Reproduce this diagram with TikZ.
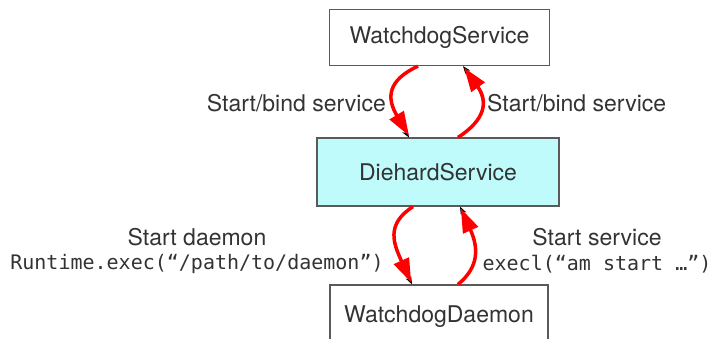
\documentclass[tikz,border=0pt]{standalone}
\usepackage{fontspec}
\setmainfont{TeX Gyre Heros}
\setmonofont{DejaVu Sans Mono}
\usetikzlibrary{arrows.meta}
\usetikzlibrary{positioning}
\definecolor{diehard}{HTML}{BFFBFB}
\definecolor{boxline}{HTML}{5A5A5A}
\definecolor{labeltext}{HTML}{333333}

\begin{document}
\begin{tikzpicture}[x=1pt, y=-1pt,
    every node/.style={font=\fontsize{23}{27}\selectfont, text=labeltext},
    svcbox/.style={draw=boxline, line width=1.2pt, inner sep=0pt},
    monolabel/.style={font=\fontsize{20}{24}\selectfont\ttfamily},
    callarrow/.style={draw=red, line width=3.5pt, -{Triangle[length=24pt,width=16pt]}},
    thinarrow/.style={draw=gray, line width=0.8pt, -{Stealth[length=8pt,width=6pt,color=black]}}
  ]
       \useasboundingbox (0,0) rectangle (714,339);

       \node[svcbox, minimum width=220pt, minimum height=56pt] (wsvc) at (439.5,37.5) {WatchdogService};
       \node[svcbox, fill=diehard, minimum width=242pt, minimum height=68pt] (dhsvc) at (438,172) {DiehardService};
       \node[svcbox, minimum width=218pt, minimum height=64pt] (wdmn) at (439,317) {WatchdogDaemon};

       \node[anchor=east, inner sep=0pt] (bindl) at (386,103) {Start/bind service};
       \node[anchor=west, inner sep=0pt] (bindr) at (487,103) {Start/bind service};
       \node (daemon) at (197,237) {Start daemon};
       \node[monolabel] (rtexec) at (197,264) {Runtime.exec(“/path/to/daemon”)};
       \node (start) at (597,237) {Start service};
       \node[monolabel] (execl) at (597,264) {execl(“am start …”)};

       % service <-> diehard
       \draw[thinarrow] ([xshift=-21.5pt]wsvc.south) .. controls +(-32,14) and +(-26,-40) .. ([xshift=-29pt]dhsvc.north);
       \draw[callarrow, shorten >=2pt] ([xshift=-21.5pt]wsvc.south) .. controls +(-30,14) and +(-24,-40) .. ([xshift=-28pt]dhsvc.north);
       \draw[thinarrow] ([xshift=20pt]dhsvc.north) .. controls +(30,-18) and +(27,35) .. ([xshift=23.5pt]wsvc.south);
       \draw[callarrow, shorten >=2pt] ([xshift=20pt]dhsvc.north) .. controls +(28,-18) and +(25,35) .. ([xshift=23.5pt]wsvc.south);

       % diehard <-> daemon
       \draw[thinarrow] ([xshift=-25pt]dhsvc.south) .. controls +(-30,18) and +(-20,-40) .. ([xshift=-27pt]wdmn.north);
       \draw[callarrow, shorten >=2pt] ([xshift=-25pt]dhsvc.south) .. controls +(-28,18) and +(-18,-40) .. ([xshift=-27pt]wdmn.north);
       \draw[thinarrow] ([xshift=19pt]wdmn.north) .. controls +(24,-18) and +(20,40) .. ([xshift=22pt]dhsvc.south);
       \draw[callarrow, shorten >=2pt] ([xshift=19pt]wdmn.north) .. controls +(22,-18) and +(18,40) .. ([xshift=22pt]dhsvc.south);
\end{tikzpicture}
\end{document}
